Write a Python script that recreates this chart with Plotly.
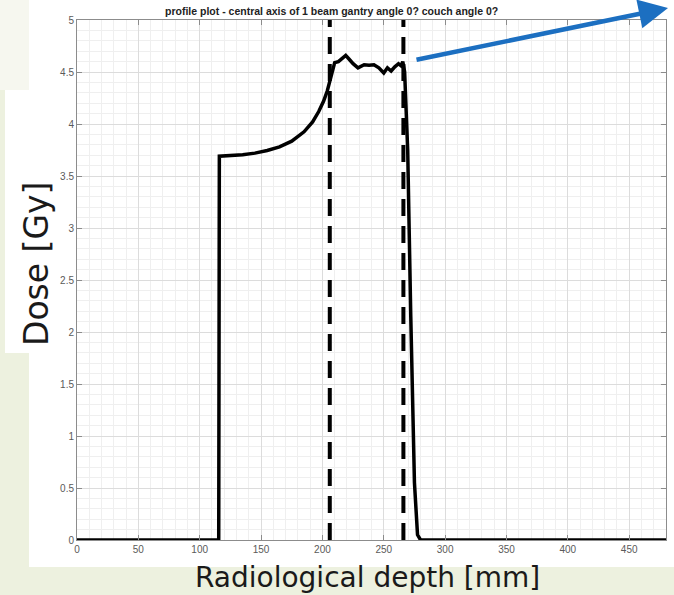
import plotly.graph_objects as go

# ---- data ----
depth_mm = [0, 115.5, 116, 125, 135, 145, 155, 165, 175, 185, 192, 197, 201, 204, 206, 208,
            210, 213, 216, 219, 222, 225, 229, 234, 238, 242, 246, 250, 253, 256, 259,
            262, 264, 265.5, 267, 269.5, 272, 275, 277.5, 280, 480]
dose_gy = [0, 0, 3.69, 3.695, 3.705, 3.72, 3.745, 3.78, 3.835, 3.925, 4.02, 4.12, 4.22, 4.32,
           4.42, 4.52, 4.59, 4.60, 4.63, 4.66, 4.62, 4.58, 4.54, 4.57, 4.565, 4.57, 4.54,
           4.49, 4.54, 4.51, 4.55, 4.58, 4.56, 4.60, 4.50, 3.75, 2.15, 0.55, 0.05, 0, 0]
field_edges_mm = [206, 266]
x_ticks = [0, 50, 100, 150, 200, 250, 300, 350, 400, 450]
y_ticks = [0, 0.5, 1, 1.5, 2, 2.5, 3, 3.5, 4, 4.5, 5]

title_text = "profile plot - central axis of 1 beam gantry angle 0? couch angle 0?"
x_label = "Radiological depth [mm]"
y_label = "Dose [Gy]"

W, H = 674, 595
L, R, T, B = 77, 8, 20, 55
pw, ph = W - L - R, H - T - B


def px_x(p):
    return (p - L) / pw


def px_y(p):
    return (H - B - p) / ph


fig = go.Figure()

for edge in field_edges_mm:
    fig.add_trace(go.Scatter(x=[edge, edge], y=[0, 5], mode="lines",
                             line=dict(color="black", width=4, dash="17px,10px"),
                             hoverinfo="skip", showlegend=False))

fig.add_trace(go.Scatter(x=depth_mm, y=dose_gy, mode="lines",
                         line=dict(color="black", width=3.5),
                         showlegend=False, cliponaxis=False))

bg = "#edf1df"
shapes = [
    dict(type="rect", xref="paper", yref="paper", layer="below",
         x0=px_x(29), x1=px_x(W + 5), y0=px_y(567), y1=px_y(-5),
         fillcolor="white", line=dict(width=0)),
    dict(type="rect", xref="paper", yref="paper", layer="below",
         x0=px_x(5), x1=px_x(31), y0=px_y(353), y1=px_y(90),
         fillcolor="white", line=dict(width=0)),
    dict(type="rect", xref="paper", yref="paper", layer="below",
         x0=px_x(-5), x1=px_x(29), y0=px_y(90), y1=px_y(-5),
         fillcolor="#f6f7ef", line=dict(width=0)),
]

label_font = dict(family="DejaVu Sans", color="#1a1a1a")

annotations = [
    dict(text=f"<b>{title_text}</b>", xref="paper", yref="paper",
         x=px_x(331), y=px_y(11), showarrow=False,
         font=dict(family="Liberation Sans, Arial", size=10.5, color="#222222"),
         xanchor="center", yanchor="middle"),
    dict(text=x_label, xref="paper", yref="paper", x=px_x(367), y=px_y(577),
         showarrow=False, font=dict(size=28, **label_font),
         xanchor="center", yanchor="middle"),
    dict(text=y_label, xref="paper", yref="paper", x=px_x(36), y=px_y(264),
         showarrow=False, textangle=-90,
         font=dict(size=33, **label_font),
         xanchor="center", yanchor="middle"),
    dict(x=px_x(668), y=px_y(8), xref="paper", yref="paper",
         ax=415 - 668, ay=60 - 8, axref="pixel", ayref="pixel",
         showarrow=True, arrowhead=2, arrowsize=1.3, arrowwidth=4.5,
         arrowcolor="#1c6fc1", text=""),
]

axis_common = dict(
    showline=True, linecolor="#8c8c8c", linewidth=1, mirror="allticks",
    ticks="inside", ticklen=5, tickcolor="#8c8c8c",
    showgrid=True, gridcolor="#dcdcdc", gridwidth=1, zeroline=False,
    tickfont=dict(family="Liberation Sans, Arial", size=10, color="#5a5a5a"),
)

fig.update_layout(
    width=W, height=H,
    margin=dict(l=L, r=R, t=T, b=B, pad=0),
    paper_bgcolor=bg, plot_bgcolor="white",
    shapes=shapes, annotations=annotations,
    xaxis=dict(range=[0, 480], tickvals=x_ticks,
               minor=dict(dtick=10, tick0=0, showgrid=True, gridcolor="#efefef", ticks=""),
               **axis_common),
    yaxis=dict(range=[0, 5], tickvals=y_ticks,
               minor=dict(dtick=0.1, tick0=0, showgrid=True, gridcolor="#efefef", ticks=""),
               **axis_common),
)

fig.write_html("out.html", config={"displayModeBar": False},
               post_script="document.body.style.margin='0';document.body.style.overflow='hidden';")
